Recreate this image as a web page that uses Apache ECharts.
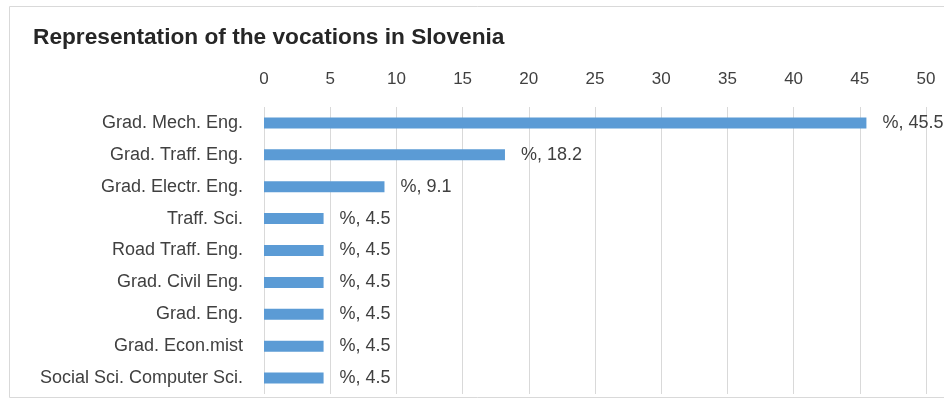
<!DOCTYPE html>
<html>
<head>
<meta charset="utf-8">
<script src="https://cdn.jsdelivr.net/npm/echarts@6/dist/echarts.min.js"></script>
<style>
  html, body { margin: 0; padding: 0; background: #fff; }
  #chart { width: 944px; height: 401px; }
</style>
</head>
<body>
<div id="chart"></div>
<script>
const categories = [
    'Grad. Mech. Eng.', 'Grad. Traff. Eng.', 'Grad. Electr. Eng.', 'Traff. Sci.',
    'Road Traff. Eng.', 'Grad. Civil Eng.', 'Grad. Eng.', 'Grad. Econ.mist',
    'Social Sci. Computer Sci.'
];
const shares = [45.5, 18.2, 9.1, 4.5, 4.5, 4.5, 4.5, 4.5, 4.5];
const xTicks = [0, 5, 10, 15, 20, 25, 30, 35, 40, 45, 50];

const font = '"Liberation Sans", Arial, sans-serif';
const chart = echarts.init(document.getElementById('chart'));

const option = {
    animation: false,
    textStyle: { fontFamily: font },
    title: {
        text: 'Representation of the vocations in Slovenia',
        left: 28, top: 21,
        textStyle: { fontSize: 22.7, fontWeight: 'bold', color: '#262626', fontFamily: font }
    },
    graphic: [{
        type: 'rect', silent: true,
        shape: { x: 9.5, y: 6.5, width: 960, height: 391 },
        style: { fill: null, stroke: '#d9d9d9', lineWidth: 1 }
    }],
    grid: { left: 264, right: 18, top: 107, bottom: 7 },
    xAxis: {
        type: 'value', position: 'top',
        min: xTicks[0], max: xTicks[xTicks.length - 1], interval: 5,
        axisLine: { show: false }, axisTick: { show: false },
        splitLine: { lineStyle: { color: '#d9d9d9', width: 1 } },
        axisLabel: { color: '#404040', fontSize: 17, margin: 19, fontFamily: font }
    },
    yAxis: {
        type: 'category', inverse: true, data: categories,
        axisLine: { show: false }, axisTick: { show: false },
        axisLabel: { color: '#404040', fontSize: 18, margin: 21, fontFamily: font }
    },
    series: [{
        type: 'bar', data: shares, barWidth: 11,
        itemStyle: { color: '#5b9bd5' },
        label: {
            show: true, position: 'right', distance: 16,
            color: '#404040', fontSize: 18, fontFamily: font,
            formatter: p => '%, ' + p.value
        }
    }]
};

chart.setOption(option);
</script>
</body>
</html>
